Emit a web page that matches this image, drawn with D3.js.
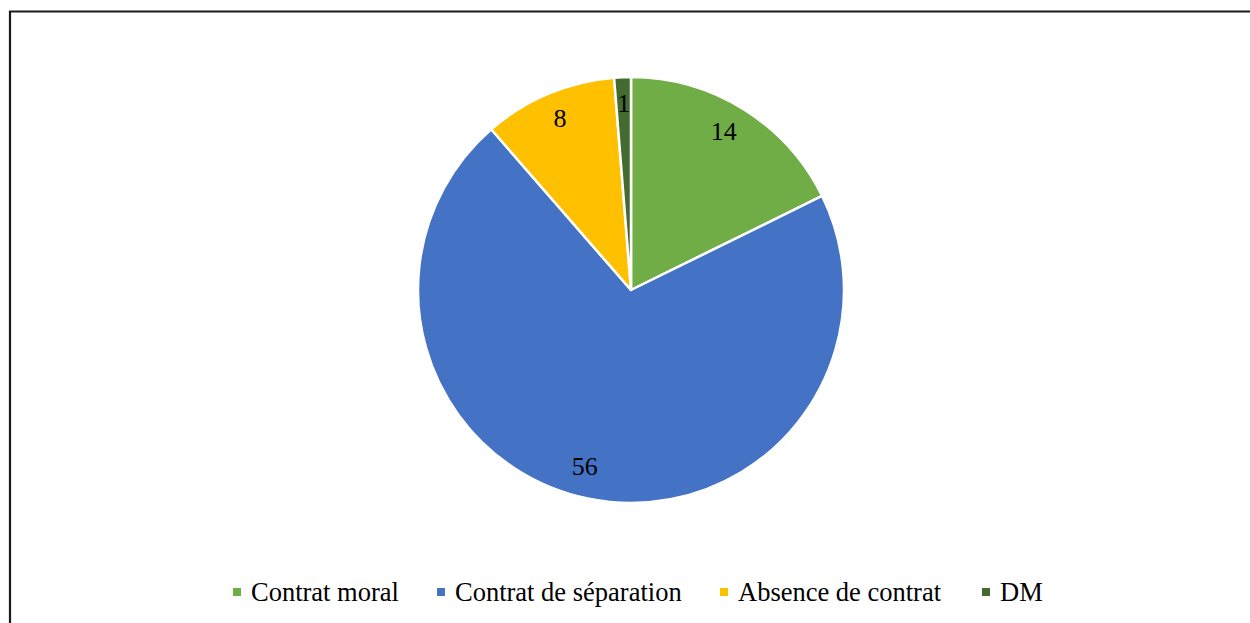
<!DOCTYPE html>
<html><head><meta charset="utf-8">
<script src="https://cdn.jsdelivr.net/npm/d3@7"></script>
<style>body{margin:0;background:#fff}svg{display:block}</style>
</head><body>
<svg id="c" width="1250" height="623"></svg>
<script>
const categories = ["Contrat moral", "Contrat de séparation", "Absence de contrat", "DM"];
const values = [14, 56, 8, 1];
const colors = ["#70AD47", "#4472C4", "#FFC000", "#436B30"];

const svg = d3.select("#c");
const W = 1250, H = 623;
svg.append("rect").attr("width", W).attr("height", H).attr("fill", "#fff");
// frame (left & top)
svg.append("path").attr("d", `M10,${H} L10,11.5 L${W},11.5`).attr("fill", "none").attr("stroke", "#1a1a1a").attr("stroke-width", 2.2);

const FONT = "'Liberation Serif', 'Times New Roman', serif";
const cx = 631, cy = 290, R = 213;
const data = categories.map((c, i) => ({cat: c, value: values[i], color: colors[i]}));
const pie = d3.pie().value(d => d.value).sort(null).startAngle(0).endAngle(2 * Math.PI);
const arcs = pie(data);
const arc = d3.arc().innerRadius(0).outerRadius(R);
const labelArc = d3.arc().innerRadius(R * 0.86).outerRadius(R * 0.86);
const g = svg.append("g").attr("transform", `translate(${cx},${cy})`);
g.selectAll("path").data(arcs).join("path")
  .attr("d", arc).attr("fill", d => d.data.color)
  .attr("stroke", "#fff").attr("stroke-width", 2.5).attr("stroke-linejoin", "round");
g.selectAll("text").data(arcs).join("text")
  .attr("transform", d => {
    const [x, y] = labelArc.centroid(d);
    return `translate(${x - (d.index === 1 ? 10 : 0) - (d.index === 0 ? 4 : 0)},${y - 3})`;
  })
  .attr("text-anchor", "middle").attr("dominant-baseline", "central")
  .attr("font-family", FONT)
  .attr("font-size", 26).attr("fill", "#000")
  .text(d => d.data.value);

// legend
const legX = [233, 437, 720, 982];
const lg = svg.append("g");
const items = lg.selectAll("g").data(data).join("g")
  .attr("transform", (d, i) => `translate(${legX[i]},592)`);
items.append("rect").attr("x", 0).attr("y", -4).attr("width", 8).attr("height", 8).attr("fill", d => d.color);
items.append("text").attr("x", 18).attr("y", 0).attr("dominant-baseline", "central")
  .attr("font-family", FONT)
  .attr("font-size", 26.5).attr("fill", "#000").text(d => d.cat);
</script>
</body></html>
